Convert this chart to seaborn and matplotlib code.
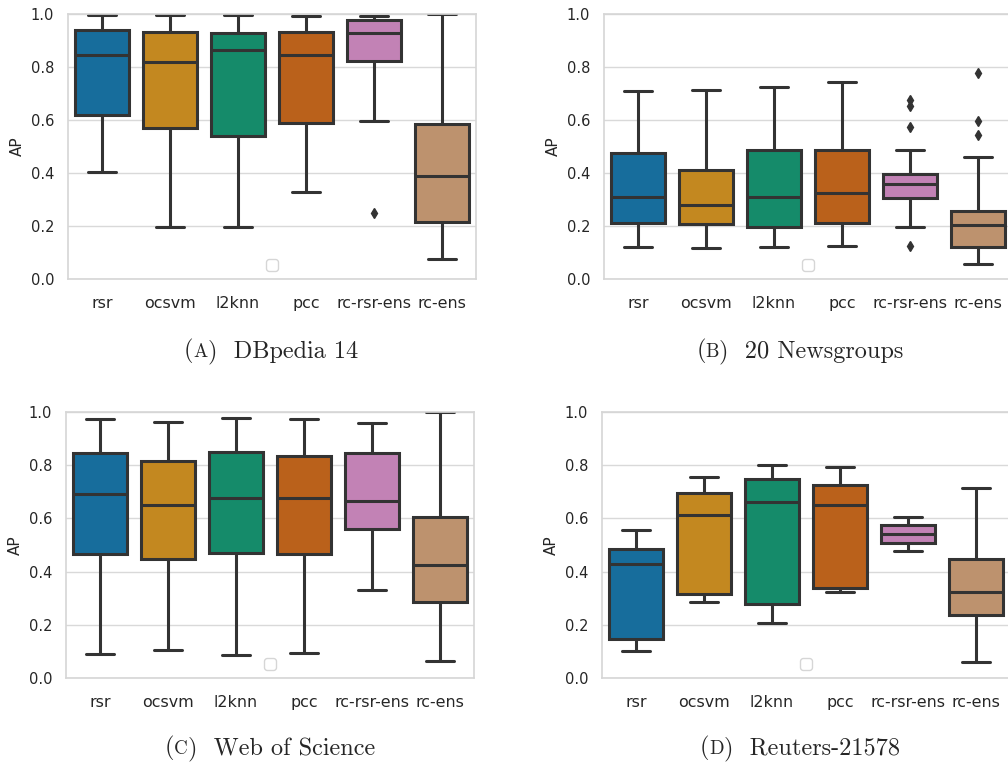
import numpy as np
import pandas as pd
import matplotlib
matplotlib.use("Agg")
import matplotlib.pyplot as plt
import seaborn as sns

methods = ["rsr", "ocsvm", "l2knn", "pcc", "rc-rsr-ens", "rc-ens"]

# (A) DBpedia 14 : whisker-low, Q1, median, Q3, whisker-high, outliers
A_wlo = [0.402, 0.197, 0.197, 0.328, 0.595, 0.077]
A_q1 = [0.619, 0.570, 0.541, 0.588, 0.822, 0.214]
A_med = [0.844, 0.818, 0.866, 0.846, 0.928, 0.387]
A_q3 = [0.939, 0.931, 0.929, 0.932, 0.977, 0.586]
A_whi = [0.997, 0.997, 0.997, 0.994, 0.994, 1.000]
A_out = [[], [], [], [], [0.248], []]

# (B) 20 Newsgroups
B_wlo = [0.122, 0.117, 0.122, 0.124, 0.195, 0.058]
B_q1 = [0.212, 0.207, 0.197, 0.213, 0.305, 0.120]
B_med = [0.311, 0.281, 0.308, 0.324, 0.358, 0.202]
B_q3 = [0.477, 0.412, 0.485, 0.488, 0.398, 0.258]
B_whi = [0.711, 0.715, 0.726, 0.743, 0.487, 0.460]
B_out = [[], [], [], [], [0.126, 0.574, 0.651, 0.677], [0.544, 0.598, 0.778]]

# (C) Web of Science
C_wlo = [0.091, 0.104, 0.086, 0.093, 0.331, 0.063]
C_q1 = [0.465, 0.448, 0.471, 0.466, 0.561, 0.287]
C_med = [0.693, 0.650, 0.678, 0.677, 0.665, 0.426]
C_q3 = [0.846, 0.816, 0.851, 0.833, 0.846, 0.604]
C_whi = [0.975, 0.963, 0.979, 0.972, 0.957, 1.000]
C_out = [[], [], [], [], [], []]

# (D) Reuters-21578
D_wlo = [0.101, 0.287, 0.207, 0.322, 0.476, 0.061]
D_q1 = [0.146, 0.317, 0.279, 0.337, 0.508, 0.235]
D_med = [0.429, 0.611, 0.660, 0.650, 0.540, 0.324]
D_q3 = [0.486, 0.696, 0.750, 0.725, 0.575, 0.448]
D_whi = [0.557, 0.756, 0.801, 0.793, 0.607, 0.715]
D_out = [[], [], [], [], [], []]

captions = [("A", "DBpedia 14"), ("B", "20 Newsgroups"),
            ("C", "Web of Science"), ("D", "Reuters-21578")]

palette = sns.color_palette("colorblind", 6)


def expand(wlo, q1, med, q3, whi, outs):
    """Build a 17-point sample whose box statistics equal the read values."""
    lo = sorted(o for o in outs if o < q1)
    hi = sorted(o for o in outs if o > q3)
    vals = lo + [wlo] + [q1] * (4 - len(lo))
    vals += [med] * 4 + [q3] * 4
    vals += [q3] * (3 - len(hi)) + [whi] + hi
    return vals


def frame(wlo, q1, med, q3, whi, outs):
    rows = []
    for i, m in enumerate(methods):
        for v in expand(wlo[i], q1[i], med[i], q3[i], whi[i], outs[i]):
            rows.append((m, v))
    return pd.DataFrame(rows, columns=["method", "AP"])


panels = [frame(A_wlo, A_q1, A_med, A_q3, A_whi, A_out),
          frame(B_wlo, B_q1, B_med, B_q3, B_whi, B_out),
          frame(C_wlo, C_q1, C_med, C_q3, C_whi, C_out),
          frame(D_wlo, D_q1, D_med, D_q3, D_whi, D_out)]

sns.set_theme(style="whitegrid")
plt.rcParams["font.family"] = ["DejaVu Sans"]

W, H = 1008, 764
fig = plt.figure(figsize=(W / 100, H / 100), dpi=100)

# axes boxes in pixels: left, top, width, height
boxes = [(68, 14, 408, 265), (604, 14, 408, 265),
         (66, 412, 408, 266), (602, 412, 408, 266)]
cap_pos = [(271, 351), (800, 351), (270, 748), (800, 748)]

for k, (df, (l, t, w, h)) in enumerate(zip(panels, boxes)):
    ax = fig.add_axes([l / W, 1 - (t + h) / H, w / W, h / H])
    sns.boxplot(data=df, x="method", y="AP", hue="method", order=methods,
                hue_order=methods, palette=palette, legend=False, ax=ax,
                width=0.8, linewidth=2.2, linecolor="#333333", saturation=0.75,
                flierprops=dict(marker="d", markersize=5,
                                markerfacecolor="#333333",
                                markeredgecolor="#333333"))
    ax.set_ylim(0, 1.0)
    ax.set_xlim(-0.5, 5.5)
    ax.set_xlabel("")
    ax.set_ylabel("AP", fontsize=11)
    ax.tick_params(axis="x", labelsize=11.4, pad=6)
    ax.tick_params(axis="y", labelsize=10.5, pad=4)
    ax.set_yticks([0.0, 0.2, 0.4, 0.6, 0.8, 1.0])
    ax.grid(axis="x", visible=False)
    ax.grid(axis="y", color="#d9d9d9", linewidth=1.0)
    for s in ax.spines.values():
        s.set_color("#d6d6d6")
        s.set_linewidth(1.2)
    ax.legend(handles=[], loc="lower center")

    # caption with small-caps letter
    letter, name = captions[k]
    cx, cy = cap_pos[k]
    fs = 17.5
    t1 = fig.text(0, 0, "(", fontsize=fs, family="cmr10")
    t2 = fig.text(0, 0, letter, fontsize=fs * 0.78, family="cmr10")
    t3 = fig.text(0, 0, ")  " + name, fontsize=fs, family="cmr10")
    renderer = fig.canvas.get_renderer()
    w1 = t1.get_window_extent(renderer).width
    w2 = t2.get_window_extent(renderer).width
    w3 = t3.get_window_extent(renderer).width
    x0 = cx - (w1 + w2 + w3) / 2
    yb = H - cy - 6
    t1.set_position((x0 / W, yb / H))
    t2.set_position(((x0 + w1) / W, yb / H))
    t3.set_position(((x0 + w1 + w2) / W, yb / H))

fig.savefig("out.png", dpi=100)
